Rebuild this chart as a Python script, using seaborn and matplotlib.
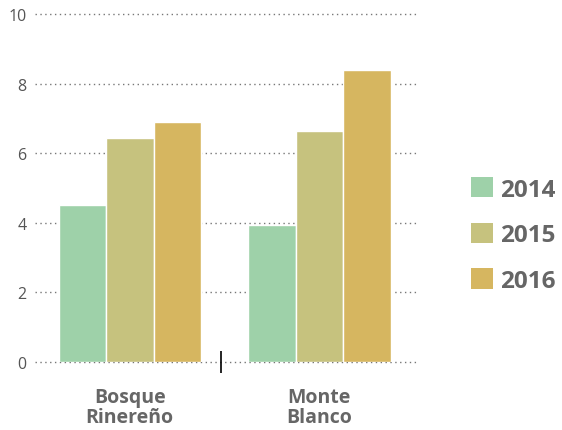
import matplotlib
matplotlib.use("Agg")
import matplotlib.pyplot as plt
import seaborn as sns
import pandas as pd
from matplotlib.patches import Patch

categories = ["Bosque\nRinereño", "Monte\nBlanco"]
years = ["2014", "2015", "2016"]
values_2014 = [4.5, 3.95]
values_2015 = [6.45, 6.65]
values_2016 = [6.9, 8.4]
colors = ["#9ED1A9", "#C6C27E", "#D6B660"]
y_ticks = [0, 2, 4, 6, 8, 10]

rows = []
for yr, vals in zip(years, [values_2014, values_2015, values_2016]):
    for c, v in zip(categories, vals):
        rows.append({"cat": c, "year": yr, "value": v})
df = pd.DataFrame(rows)

sns.set_style("white")
plt.rcParams["font.family"] = ["Open Sans", "DejaVu Sans"]

fig = plt.figure(figsize=(5.62, 4.31), dpi=100)
ax = fig.add_axes([35/562, 1-363/431, (418-35)/562, (363-15)/431])

sns.barplot(data=df, x="cat", y="value", hue="year", order=categories,
            hue_order=years, palette=colors, width=0.75, ax=ax,
            edgecolor="white", linewidth=1, legend=False, saturation=1)

ax.set_xlim(-0.5, 1.52)
ax.set_ylim(0, 10)
ax.set_yticks(y_ticks)
ax.set_yticklabels([str(t) for t in y_ticks], color="#555555", fontsize=11.5)
for t in y_ticks:
    ax.axhline(t, color="#777777", linestyle=(0, (1, 2.5)), linewidth=1,
               zorder=0.5, clip_on=False)
ax.tick_params(axis="y", length=0, pad=6)
for s in ax.spines.values():
    s.set_visible(False)

ax.set_xticks([0, 1])
ax.set_xticklabels(categories, fontweight="bold", fontsize=14, color="#666666",
                   linespacing=1.0)
ax.tick_params(axis="x", which="major", length=0, pad=18)
ax.set_xticks([0.48], minor=True)
ax.tick_params(axis="x", which="minor", bottom=True, length=16, width=1.2,
               direction="inout", color="black")
ax.set_xlabel("")
ax.set_ylabel("")

handles = [Patch(facecolor=c, edgecolor="none", label=y) for c, y in zip(colors, years)]
leg = fig.legend(handles=handles, loc="center left",
                 bbox_to_anchor=(471/562, 1-236/431), frameon=False,
                 borderpad=0, borderaxespad=0,
                 prop={"weight": "bold", "size": 17.5, "family": ["Open Sans", "DejaVu Sans"]},
                 handlelength=0.9, handleheight=0.9, handletextpad=0.3,
                 labelspacing=0.87)
for t in leg.get_texts():
    t.set_color("#666666")

fig.savefig("out.png", dpi=100)
